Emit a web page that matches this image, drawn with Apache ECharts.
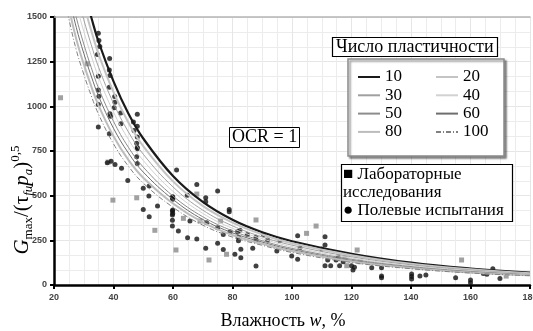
<!DOCTYPE html>
<html><head><meta charset="utf-8">
<script src="https://cdn.jsdelivr.net/npm/echarts@6/dist/echarts.min.js"></script>
<style>html,body{margin:0;padding:0;background:#fff}#c{width:533px;height:331px}</style>
</head><body><div id="c"></div>
<script>
// moisture w, % (sample points of the curves)
const W = [22.5,25,27.5,30,32.5,35,40,45,50,60,70,80,90,100,120,140,160,180];
// curves by plasticity index
const PI10  = [2200,2000,1820,1650,1500,1360,1140,960,820,610,465,365,295,245,175,125,92,69];
const PI20  = [2110,1913,1734,1570,1425,1291,1080,910,777,580,443,349,283,234,167,119,88,66];
const PI30  = [2010,1821,1643,1485,1346,1218,1017,857,732,549,419,331,269,223,158,113,83,63];
const PI40  = [1940,1750,1573,1420,1284,1162,968,815,697,524,401,317,259,214,151,108,80,61];
const PI50  = [1860,1674,1497,1349,1218,1101,916,771,660,498,382,303,248,205,144,103,76,58];
const PI60  = [1800,1617,1441,1297,1170,1056,877,739,632,479,367,292,240,198,138,99,73,56];
const PI80  = [1740,1551,1376,1236,1113,1004,832,700,600,456,351,280,231,190,132,95,70,54];
const PI100 = [1690,1490,1315,1180,1060,955,790,665,570,435,335,268,222,182,126,91,67,52];
const curveNames = ['10','20','30','40','50','60','80','100'];

// laboratory tests [w, value]
const labPoints = [[31.2,1238],[22.2,1048],[39.8,475],[47.8,488],[53.9,306],[61,196],[68,509],
 [63.5,373],[69.1,358],[76,358],[72.1,140],[78,172],[87.9,364],[104.9,289],[108.1,330],
 [117.8,149],[118.4,108],[121.9,196],[122.9,130],[157,140],[172,50],[38.2,688]];
// field tests [w, value]
const fieldPoints = [[34.9,1409],[35.1,1368],[35.4,1335],[34.6,1290],[38.7,1268],[38.6,1204],[38.8,1173],
 [34.9,1169],[38.6,1107],[34.9,1092],[40.4,1055],[35.1,1057],[34.9,1010],[40.5,1023],[40.2,992],
 [38.8,958],[39,945],[42.4,962],[42.5,902],[34.9,884],[38.6,846],[48,955],[46.7,912],[48,888],
 [46.9,865],[48,828],[47.8,794],[48,762],[48,770],[47.8,718],[48,680],[39.2,692],[37.9,684],
 [40.5,675],[42.7,654],[44.8,585],[50,541],[52,554],[51.9,498],[50,423],[52,382],[54.8,442],
 [59.8,490],[59.8,414],[59.8,392],[59.8,362],[59.8,330],[61.2,643],[59.9,494],[59.9,480],
 [59.9,420],[59.9,400],[61.8,302],[64.9,265],[68,257],[64.8,503],[68,563],[71,488],[71,466],
 [75,526],[65.7,358],[71.3,348],[75,320],[78.9,423],[78.9,410],[76.9,283],[75,233],[71,205],
 [76.9,199],[80.8,172],[82.8,200],[82.8,153],[81.7,298],[82.5,307],[82,267],[82,248],[79.2,298],
 [85,283],[87.9,267],[87.9,248],[86.8,205],[87.9,106],[90.4,283],[91.8,252],[94.9,190],[96,248],
 [101.9,276],[111.1,270],[111.1,224],[110,201],[102.7,209],[101.9,144],[99.9,162],[112,140],
 [111.1,108],[113,108],[116,108],[114.8,140],[115.5,158],[117.2,130],[120,108],[120.5,84],
 [121,100],[126.8,97],[130.1,97],[130.1,50],[130.1,41],[140.2,62],[140.2,47],[140.2,34],[143,50],
 [145,56],[155,41],[160,28],[160,13],[164.3,65],[165.5,60],[167.5,91],[169.9,37]];

const curveValues = [PI10,PI20,PI30,PI40,PI50,PI60,PI80,PI100];
const curveStyles = [
  {color:'#1a1a1a', width:2.2},
  {color:'#c4c4c4', width:2},
  {color:'#a0a0a0', width:1},
  {color:'#d2d2d2', width:1},
  {color:'#8c8c8c', width:1},
  {color:'#6e6e6e', width:1},
  {color:'#bcbcbc', width:2},
  {color:'#808080', width:1, type:[5,2,1,2]}
];
const serif = 'Liberation Serif';
const lineSeries = curveNames.map((n,i)=>({
  name:n, type:'line', smooth:0.4, symbol:'none', clip:true, z:3,
  lineStyle:curveStyles[i], itemStyle:{color:curveStyles[i].color},
  data: W.map((w,k)=>[w, curveValues[i][k]])
}));

const legendCommon = {
  orient:'vertical', top:63, z:5,
  itemWidth:22, itemHeight:14, itemGap:0.3,
  itemStyle:{opacity:0},
  textStyle:{fontFamily:serif, fontSize:17, color:'#000', lineHeight:18}
};

const chart = echarts.init(document.getElementById('c'), null, {renderer:'canvas'});
chart.setOption({
  animation:false,
  backgroundColor:'#fff',
  grid:{left:54, right:3, top:17, bottom:46, outerBoundsMode:'none', containLabel:false},
  xAxis:[{
    type:'value', min:20, max:180, interval:20,
    axisLine:{lineStyle:{color:'#000', width:2.5}},
    axisTick:{length:4, lineStyle:{color:'#000', width:2}},
    axisLabel:{fontFamily:'Liberation Sans', fontWeight:'bold', fontSize:9, color:'#444', margin:8,
      formatter:v=>String(v)},
    splitLine:{show:true, lineStyle:{color:'#e6e6e6', width:1}},
    minorTick:{show:false, splitNumber:4},
    minorSplitLine:{show:true, lineStyle:{color:'#ececec', width:1}},
    name:'Влажность {i|w}, %', nameLocation:'middle', nameGap:27,
    nameTextStyle:{fontFamily:serif, fontSize:18, color:'#000', padding:[0,18,0,0],
      rich:{i:{fontFamily:serif, fontSize:18, fontStyle:'italic', color:'#000'}}}
  },{
    type:'value', min:20, max:180, position:'top',
    axisLine:{show:true, lineStyle:{color:'#b5b5b5', width:1.5}},
    axisTick:{show:false}, axisLabel:{show:false}, splitLine:{show:false}
  }],
  yAxis:{
    type:'value', min:0, max:1500, interval:250,
    axisLine:{show:true, lineStyle:{color:'#000', width:2.5}},
    axisTick:{show:true, length:4, lineStyle:{color:'#000', width:2}},
    axisLabel:{fontFamily:'Liberation Sans', fontWeight:'bold', fontSize:9, color:'#444', margin:7,
      formatter:v=>String(v)},
    splitLine:{show:true, lineStyle:{color:'#e6e6e6', width:1}},
    minorTick:{show:false, splitNumber:3},
    minorSplitLine:{show:true, lineStyle:{color:'#ececec', width:1}}
  },
  legend:[
    Object.assign({data:['10','30','50','80'], left:352}, legendCommon),
    Object.assign({data:['20','40','60','100'], left:430}, legendCommon)
  ],
  title:[{
    text:'OCR = 1', left:229, top:127, padding:[1,3,1,3],
    borderColor:'#000', borderWidth:1, backgroundColor:'#fff', z:6,
    textStyle:{fontFamily:serif, fontSize:18, fontWeight:'normal', color:'#000', lineHeight:19}
  },{
    text:'Число пластичности', left:332, top:37, padding:[1,4,0,4],
    borderColor:'#000', borderWidth:1.2, backgroundColor:'#fff', z:6,
    textStyle:{fontFamily:serif, fontSize:18, fontWeight:'normal', color:'#000', lineHeight:19}
  },{
    text:'■ Лабораторные\nисследования\n● Полевые испытания', left:341, top:164,
    padding:[2,9,2,2], borderColor:'#000', borderWidth:1.2, backgroundColor:'#fff', z:6,
    textStyle:{fontFamily:serif, fontSize:17, fontWeight:'normal', color:'#000', lineHeight:18}
  }],
  graphic:[{
    type:'rect', z:4, shape:{x:348, y:59, width:156, height:97},
    style:{fill:'#fff', stroke:'#8a8a8a', lineWidth:1.5, shadowBlur:2, shadowOffsetX:2, shadowOffsetY:2, shadowColor:'rgba(0,0,0,0.45)'}
  },{
    type:'text', z:5, x:22, y:200, rotation:Math.PI/2,
    style:{
      text:'{i|G}{sub|max}{n|/(}{t|τ}{subi|fu}{i|p}{subi|a}{n|)}{sup|0,5}',
      align:'center', verticalAlign:'middle',
      rich:{
        i:{fontFamily:serif, fontStyle:'italic', fontSize:21, lineHeight:26, fill:'#000'},
        n:{fontFamily:serif, fontSize:21, lineHeight:26, fill:'#000'},
        t:{fontFamily:serif, fontSize:21, lineHeight:26, fill:'#000'},
        sub:{fontFamily:serif, fontSize:13, verticalAlign:'bottom', fill:'#000'},
        subi:{fontFamily:serif, fontStyle:'italic', fontSize:13, verticalAlign:'bottom', fill:'#000'},
        sup:{fontFamily:serif, fontSize:13, verticalAlign:'top', fill:'#000'}
      }
    }
  }],
  series:[
    {name:'Лабораторные исследования', type:'scatter', symbol:'rect', symbolSize:5, z:2,
     itemStyle:{color:'#8a8a8a'}, data:labPoints},
    {name:'Полевые испытания', type:'scatter', symbol:'circle', symbolSize:5, z:2,
     itemStyle:{color:'#111'}, data:fieldPoints}
  ].concat(lineSeries)
});
</script></body></html>
